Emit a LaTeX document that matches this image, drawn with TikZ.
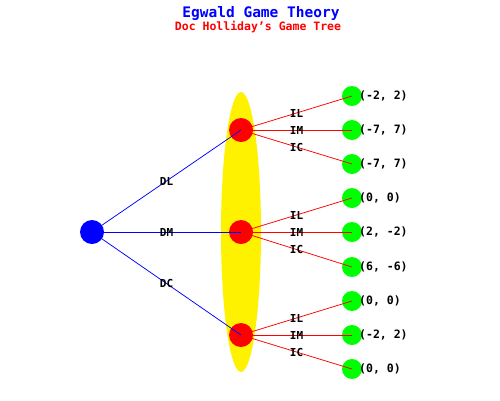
\documentclass[tikz,border=0pt]{standalone}
\usepackage{fontspec}
\setmonofont{DejaVu Sans Mono}
\begin{document}
\begin{tikzpicture}[x=1pt,y=-1pt,
  root/.style={circle,fill=blue,minimum size=24pt,inner sep=0pt},
  chance/.style={circle,fill=red,minimum size=24pt,inner sep=0pt},
  leaf/.style={circle,fill=green,minimum size=20pt,inner sep=0pt},
  lbl/.style={font=\ttfamily\bfseries\fontsize{11}{12}\selectfont,text=black,inner sep=0pt},
  pay/.style={font=\ttfamily\bfseries\fontsize{11.5}{12}\selectfont,text=black,anchor=west,inner sep=0pt},
  bedge/.style={blue,line width=0.75pt},
  redge/.style={red,line width=0.75pt}]
\useasboundingbox (0,0) rectangle (500,400);
\fill[white] (0,0) rectangle (500,400);
\node[font=\ttfamily\bfseries\fontsize{14.5}{16}\selectfont,text=blue] (t1) at (261,13) {Egwald Game Theory};
\node[font=\ttfamily\bfseries\fontsize{11.5}{13}\selectfont,text=red] (t2) at (258,27) {Doc Holliday’s Game Tree};
\fill[yellow] (241,232) ellipse (20 and 140);
\node[root] (r) at (92,232) {};
\node[chance] (a) at (241,130) {};
\node[chance] (b) at (241,232) {};
\node[chance] (c) at (241,335) {};
\foreach \n/\y in {a1/96,a2/130,a3/164,b1/198,b2/232,b3/267,c1/301,c2/335,c3/369}
  \node[leaf] (\n) at (352,\y) {};
\draw[bedge] (r.center) -- (a.center) node[midway,lbl] (dl) {DL};
\draw[bedge] (r.center) -- (b.center) node[midway,lbl] (dm) {DM};
\draw[bedge] (r.center) -- (c.center) node[midway,lbl] (dc) {DC};
\foreach \p in {a,b,c}{
  \draw[redge] (\p.center) -- (\p1.center) node[midway,lbl] (\p l) {IL};
  \draw[redge] (\p.center) -- (\p2.center) node[midway,lbl] (\p m) {IM};
  \draw[redge] (\p.center) -- (\p3.center) node[midway,lbl] (\p c) {IC};
}
\node[pay] (pa1) at (359,96) {(-2, 2)};
\node[pay] (pa2) at (359,130) {(-7, 7)};
\node[pay] (pa3) at (359,164) {(-7, 7)};
\node[pay] (pb1) at (359,198) {(0, 0)};
\node[pay] (pb2) at (359,232) {(2, -2)};
\node[pay] (pb3) at (359,267) {(6, -6)};
\node[pay] (pc1) at (359,301) {(0, 0)};
\node[pay] (pc2) at (359,335) {(-2, 2)};
\node[pay] (pc3) at (359,369) {(0, 0)};
\end{tikzpicture}
\end{document}
